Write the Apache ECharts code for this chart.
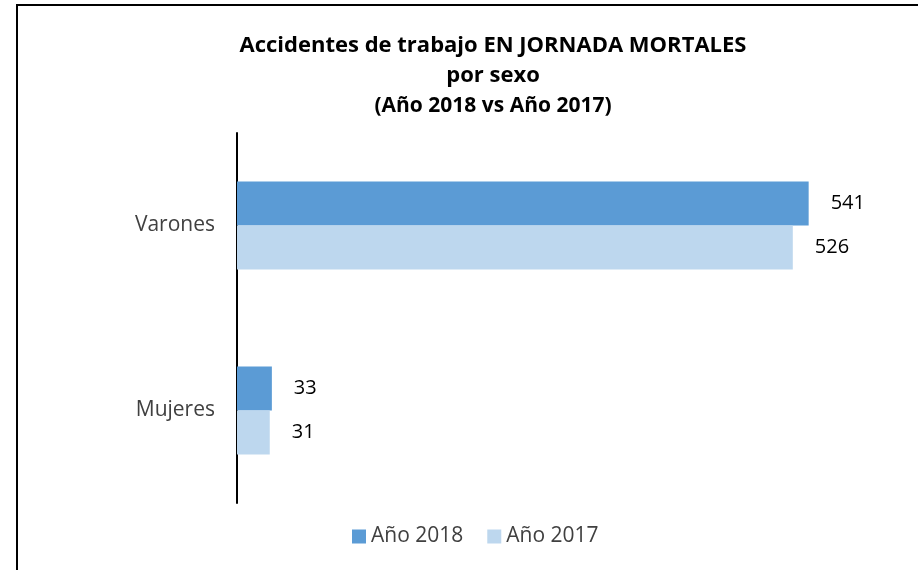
<!DOCTYPE html>
<html>
<head>
<meta charset="utf-8">
<script src="https://cdn.jsdelivr.net/npm/echarts@6/dist/echarts.min.js"></script>
<style>
  html, body { margin: 0; padding: 0; background: #fff; }
  #chart { width: 918px; height: 570px; }
</style>
</head>
<body>
<div id="chart"></div>
<script>
// datos del gráfico
var categorias = ['Mujeres', 'Varones'];
var anio2018 = [33, 541];
var anio2017 = [31, 526];
var nombres = ['Año 2018', 'Año 2017'];

var fuente = '"Open Sans", "Liberation Sans", sans-serif';
var chart = echarts.init(document.getElementById('chart'));

var option = {
    backgroundColor: '#fff',
    animation: false,
    title: [
        { text: 'Accidentes de trabajo EN JORNADA MORTALES', left: 488, top: 30, textAlign: 'center',
          textStyle: { fontFamily: fuente, fontSize: 22, fontWeight: 'bold', color: '#000' } },
        { text: 'por sexo', left: 488, top: 60, textAlign: 'center',
          textStyle: { fontFamily: fuente, fontSize: 22, fontWeight: 'bold', color: '#000' } },
        { text: '(Año 2018 vs Año 2017)', left: 488, top: 91, textAlign: 'center',
          textStyle: { fontFamily: fuente, fontSize: 21, fontWeight: 'bold', color: '#000' } }
    ],
    legend: {
        data: nombres,
        top: 521,
        left: 347,
        itemWidth: 14,
        itemHeight: 14,
        itemGap: 24,
        icon: 'rect',
        textStyle: { fontFamily: fuente, fontSize: 21, color: '#404040' }
    },
    grid: { left: 237, right: 47, top: 133, bottom: 67, containLabel: false },
    xAxis: {
        type: 'value',
        min: 0,
        max: 600,
        show: false
    },
    yAxis: {
        type: 'category',
        data: categorias,
        axisLine: { show: true, lineStyle: { color: '#000', width: 2 } },
        axisTick: { show: false },
        axisLabel: { margin: 22, fontFamily: fuente, fontSize: 21, color: '#404040' }
    },
    series: [
        {
            name: nombres[0],
            type: 'bar',
            data: anio2018,
            barGap: '0%',
            barCategoryGap: '52.4%',
            itemStyle: { color: '#5b9bd5' },
            label: { show: true, position: 'right', distance: 22, fontFamily: fuente, fontSize: 20, color: '#000' }
        },
        {
            name: nombres[1],
            type: 'bar',
            data: anio2017,
            barGap: '0%',
            barCategoryGap: '52.4%',
            itemStyle: { color: '#bdd7ee' },
            label: { show: true, position: 'right', distance: 22, fontFamily: fuente, fontSize: 20, color: '#000' }
        }
    ],
    graphic: [
        { type: 'polyline', shape: { points: [[17, 570], [17, 5], [918, 5]] },
          style: { stroke: '#000', lineWidth: 2, fill: null } }
    ]
};

chart.setOption(option);
</script>
</body>
</html>
